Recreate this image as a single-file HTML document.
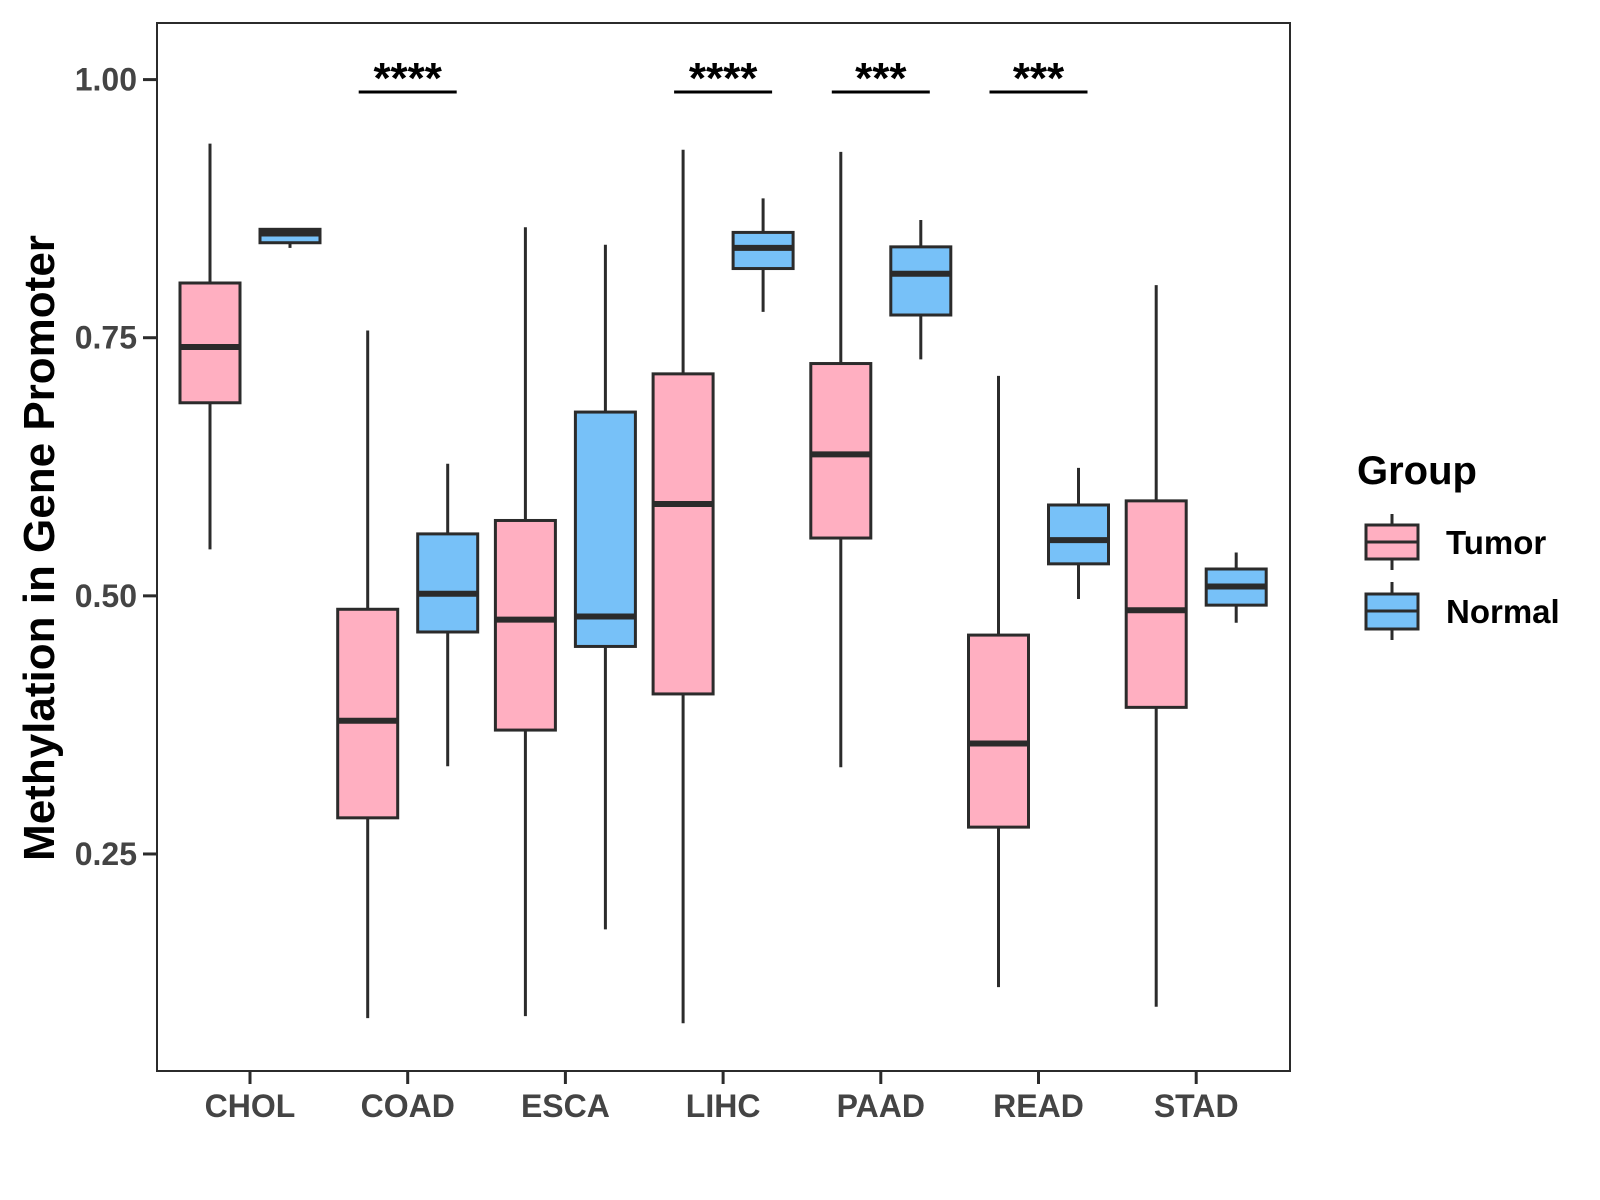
<!DOCTYPE html>
<html><head><meta charset="utf-8"><style>
body{margin:0;background:#fff}
svg{display:block;font-family:"Liberation Sans",Arial,sans-serif}
</style></head><body>
<svg id="chart" width="1600" height="1200" viewBox="0 0 1600 1200" xmlns="http://www.w3.org/2000/svg">
<rect x="0" y="0" width="1600" height="1200" fill="#fff"/>
<g id="marks"></g>
<rect x="157" y="23" width="1133" height="1048" fill="none" stroke="#2b2b2b" stroke-width="2"/>
<g id="axes"></g>
<text transform="translate(54,548) rotate(-90)" text-anchor="middle" font-size="44" font-weight="bold" fill="#000">Methylation in Gene Promoter</text>
<g>
<text x="1357" y="484" font-size="40" font-weight="bold" fill="#000">Group</text>
<g>
<line x1="1392" y1="514" x2="1392" y2="570" stroke="#2b2b2b" stroke-width="3"/>
<rect x="1366" y="525" width="52" height="34" fill="#FFAFC1" stroke="#2b2b2b" stroke-width="3"/>
<line x1="1366" y1="542" x2="1418" y2="542" stroke="#2b2b2b" stroke-width="3"/>
<text x="1446" y="554" font-size="33" font-weight="bold" fill="#000">Tumor</text></g>
<g>
<line x1="1392" y1="582" x2="1392" y2="640" stroke="#2b2b2b" stroke-width="3"/>
<rect x="1366" y="594" width="52" height="35" fill="#77C1F8" stroke="#2b2b2b" stroke-width="3"/>
<line x1="1366" y1="611" x2="1418" y2="611" stroke="#2b2b2b" stroke-width="3"/>
<text x="1446" y="623" font-size="33" font-weight="bold" fill="#000">Normal</text></g>
</g>
</svg>
<script>
const categories=["CHOL","COAD","ESCA","LIHC","PAAD","READ","STAD"];
// [lower whisker, q1, median, q3, upper whisker]
const tumorStats=[[0.545,0.687,0.741,0.803,0.938],[0.091,0.285,0.379,0.487,0.757],[0.093,0.370,0.477,0.573,0.857],[0.086,0.405,0.589,0.715,0.932],[0.334,0.556,0.637,0.725,0.930],[0.121,0.276,0.357,0.462,0.713],[0.102,0.392,0.486,0.592,0.801]];
const normalStats=[[0.837,0.842,0.851,0.855,0.855],[0.335,0.465,0.502,0.560,0.628],[0.177,0.451,0.480,0.678,0.840],[0.775,0.817,0.837,0.852,0.885],[0.729,0.772,0.812,0.838,0.864],[0.497,0.531,0.554,0.588,0.624],[0.474,0.491,0.509,0.526,0.542]];
const sigCats=["COAD","LIHC","PAAD","READ"];
const sigLabels=["****","****","***","***"];
const sigY=0.988;
const yTicks=[0.25,0.50,0.75,1.00];
const yTickLabels=["0.25","0.50","0.75","1.00"];

const NS="http://www.w3.org/2000/svg";
function y(v){return 79.6+(1-v)*1032.5;}
function x(i){return 250+i*157.7;}
function mk(tag,attrs,parent){const e=document.createElementNS(NS,tag);for(const k in attrs)e.setAttribute(k,attrs[k]);parent.appendChild(e);return e;}
const marks=document.getElementById('marks'),axes=document.getElementById('axes');
const groups=[{stats:tumorStats,off:-40,fill:"#FFAFC1",name:"tumor"},{stats:normalStats,off:40,fill:"#77C1F8",name:"normal"}];
groups.forEach(g=>{g.stats.forEach((s,i)=>{
 const cx=x(i)+g.off,hw=30;
 const grp=mk('g',{},marks);
 
 
 mk('line',{x1:cx,x2:cx,y1:y(s[4]),y2:y(s[0]),stroke:"#2b2b2b","stroke-width":3},grp);
 mk('rect',{x:cx-hw,y:y(s[3]),width:2*hw,height:Math.max(1,y(s[1])-y(s[3])),fill:g.fill,stroke:"#2b2b2b","stroke-width":3},grp);
 mk('line',{x1:cx-hw,x2:cx+hw,y1:y(s[2]),y2:y(s[2]),stroke:"#2b2b2b","stroke-width":6},grp);
});});
sigCats.forEach((c,k)=>{
 const i=categories.indexOf(c),cx=x(i);
 const g=mk('g',{},marks);
 
 
 mk('line',{x1:cx-49,x2:cx+49,y1:y(sigY),y2:y(sigY),stroke:"#000","stroke-width":3},g);
 const t=mk('text',{x:cx,y:y(sigY)+1,"text-anchor":"middle","font-size":44,"font-weight":"bold",fill:"#000"},g);
 t.textContent=sigLabels[k];
});
yTicks.forEach((v,k)=>{
 const l=mk('line',{x1:143,x2:157,y1:y(v),y2:y(v),stroke:"#2b2b2b","stroke-width":3},axes);
 
 
 const t=mk('text',{x:137,y:y(v)+11,"text-anchor":"end","font-size":32,"font-weight":"bold",fill:"#444"},axes);
 
 
 t.textContent=yTickLabels[k];
});
categories.forEach((c,i)=>{
 const l=mk('line',{x1:x(i),x2:x(i),y1:1071,y2:1084,stroke:"#2b2b2b","stroke-width":3},axes);
 
 
 const t=mk('text',{x:x(i),y:1117,"text-anchor":"middle","font-size":32,"font-weight":"bold",fill:"#444"},axes);
 
 
 t.textContent=c;
});
</script>
</body></html>
